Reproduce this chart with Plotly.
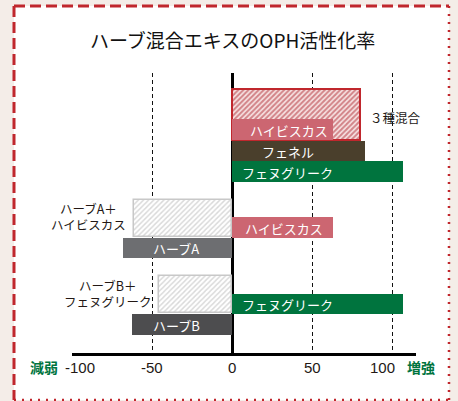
import plotly.graph_objects as go

# ---- data ----
mix_labels = ["３種混合", "ハーブA＋<br>ハイビスカス", "ハーブB＋<br>フェヌグリーク"]
mix_values = [80, -61, -45.5]
single_labels = ["ハイビスカス", "フェネル", "フェヌグリーク", "ハイビスカス", "ハーブA", "フェヌグリーク", "ハーブB"]
single_values = [63, 83, 107, 63, -68, 107, -62.5]
tick_vals = [-100, -50, 0, 50, 100]
tick_text = ["-100", "-50", "0", "50", "100"]
title_text = "ハーブ混合エキスのOPH活性化率"
left_word = "減弱"
right_word = "増強"

# ---- layout helpers (y axis in pixel units from plot top) ----
mix_pos = [(41.5, 51), (145.5, 37), (221.5, 37)]
single_pos = [(56.5, 21), (78, 20), (98.5, 21), (154.5, 21), (175, 20.5), (231, 20), (251.5, 21)]
single_colors = ["#cc6671", "#4a3f2c", "#00743e", "#cc6671", "#6d6e71", "#00743e", "#4d4d4f"]
single_label_pos = [(10, "left"), (17.5, "left"), (5, "left"), (7, "left"), (-35, "center"), (5, "left"), (-35, "center")]

RED = "#c0272d"
FONT = "Noto Sans CJK JP"


def px(xp):
    return (xp - 72) / 344.0


def py(yp):
    return (353 - yp) / 280.0


fig = go.Figure()

# hatched mix bars (behind)
for i, (v, (yc, w)) in enumerate(zip(mix_values, mix_pos)):
    red = i == 0
    fig.add_trace(go.Bar(
        x=[v], y=[yc], width=[w], orientation="h", base=0,
        marker=dict(
            color="#f7e0e0" if red else "#ffffff",
            line=dict(color=RED if red else "#c8c8c8", width=2 if red else 1.5),
            pattern=dict(shape="/", fgcolor="#ad222b" if red else "#b3b3b3",
                         bgcolor="#f8e6e6" if red else "#ffffff",
                         size=3.6, solidity=0.55 if red else 0.4),
        ),
        hoverinfo="skip", showlegend=False,
    ))

# single extract bars
for v, (yc, w), c in zip(single_values, single_pos, single_colors):
    fig.add_trace(go.Bar(
        x=[v], y=[yc], width=[w], orientation="h", base=0,
        marker=dict(color=c, line=dict(width=0)),
        hoverinfo="skip", showlegend=False,
    ))

ann = []
for lab, (yc, w), (lx, anc) in zip(single_labels, single_pos, single_label_pos):
    ann.append(dict(x=lx, y=yc + 0.5, xref="x", yref="y", text=lab, showarrow=False,
                    xanchor=anc, yanchor="middle",
                    font=dict(family=FONT, size=13, color="white")))

ann.append(dict(x=85, y=44, xref="x", yref="y", text=mix_labels[0], showarrow=False,
                xanchor="left", yanchor="middle", font=dict(family=FONT, size=12.5, color="#231815")))
mix_text_pos = [None, (-90, 143), (-77.5, 220.5)]
for i in (1, 2):
    tx, ty = mix_text_pos[i]
    ann.append(dict(x=tx, y=ty, xref="x", yref="y", text=mix_labels[i], showarrow=False,
                    xanchor="center", yanchor="middle", align="center",
                    font=dict(family=FONT, size=12.5, color="#231815")))

tick_shift = {-100: 8, 100: -10}
for tv, tt in zip(tick_vals, tick_text):
    ann.append(dict(x=tv, y=py(367), xref="x", yref="paper", text=tt, showarrow=False,
                    xanchor="center", yanchor="middle", xshift=tick_shift.get(tv, 0),
                    font=dict(family="Liberation Sans", size=15, color="#231815")))

ann.append(dict(x=px(44), y=py(367), xref="paper", yref="paper", text="<b>" + left_word + "</b>",
                showarrow=False, xanchor="center", yanchor="middle",
                font=dict(family=FONT, size=14, color="#00743e")))
ann.append(dict(x=px(421), y=py(367), xref="paper", yref="paper", text="<b>" + right_word + "</b>",
                showarrow=False, xanchor="center", yanchor="middle",
                font=dict(family=FONT, size=14, color="#00743e")))

ann.append(dict(x=px(232), y=py(40), xref="paper", yref="paper", text=title_text, showarrow=False,
                xanchor="center", yanchor="middle", font=dict(family=FONT, size=19, color="#111111")))

shapes = [
    dict(type="rect", xref="paper", yref="paper", x0=px(14), x1=px(449), y0=py(400), y1=py(6),
         fillcolor="white", line=dict(width=0), layer="below"),
    dict(type="line", xref="paper", yref="paper", x0=px(14), x1=px(449), y0=py(6), y1=py(6),
         line=dict(color=RED, width=3, dash="11px,5px")),
    dict(type="line", xref="paper", yref="paper", x0=px(14), x1=px(14), y0=py(6), y1=py(400),
         line=dict(color=RED, width=3, dash="11px,5px")),
    dict(type="line", xref="paper", yref="paper", x0=px(449), x1=px(449), y0=py(6), y1=py(400),
         line=dict(color=RED, width=2.5, dash="2px,6px")),
    dict(type="line", xref="paper", yref="paper", x0=px(14), x1=px(449), y0=py(400), y1=py(400),
         line=dict(color=RED, width=2.5, dash="2px,6px")),
]

fig.update_layout(
    width=458, height=401,
    margin=dict(l=72, r=42, t=73, b=48, pad=0),
    paper_bgcolor="#f4ede8", plot_bgcolor="white",
    barmode="overlay", bargap=0,
    annotations=ann, shapes=shapes,
    xaxis=dict(range=[-100, 115], tickvals=tick_vals, showticklabels=False, ticks="",
               showgrid=True, gridcolor="#111111", gridwidth=1.3, griddash="4px,3px",
               zeroline=True, zerolinecolor="#000000", zerolinewidth=3,
               showline=True, linecolor="#000000", linewidth=3, fixedrange=True),
    yaxis=dict(range=[280, 0], showticklabels=False, ticks="", showgrid=False,
               zeroline=False, showline=False, fixedrange=True),
)

fig.write_html("out.html", config={"displayModeBar": False},
               post_script="document.body.style.margin='0';document.body.style.padding='0';")
